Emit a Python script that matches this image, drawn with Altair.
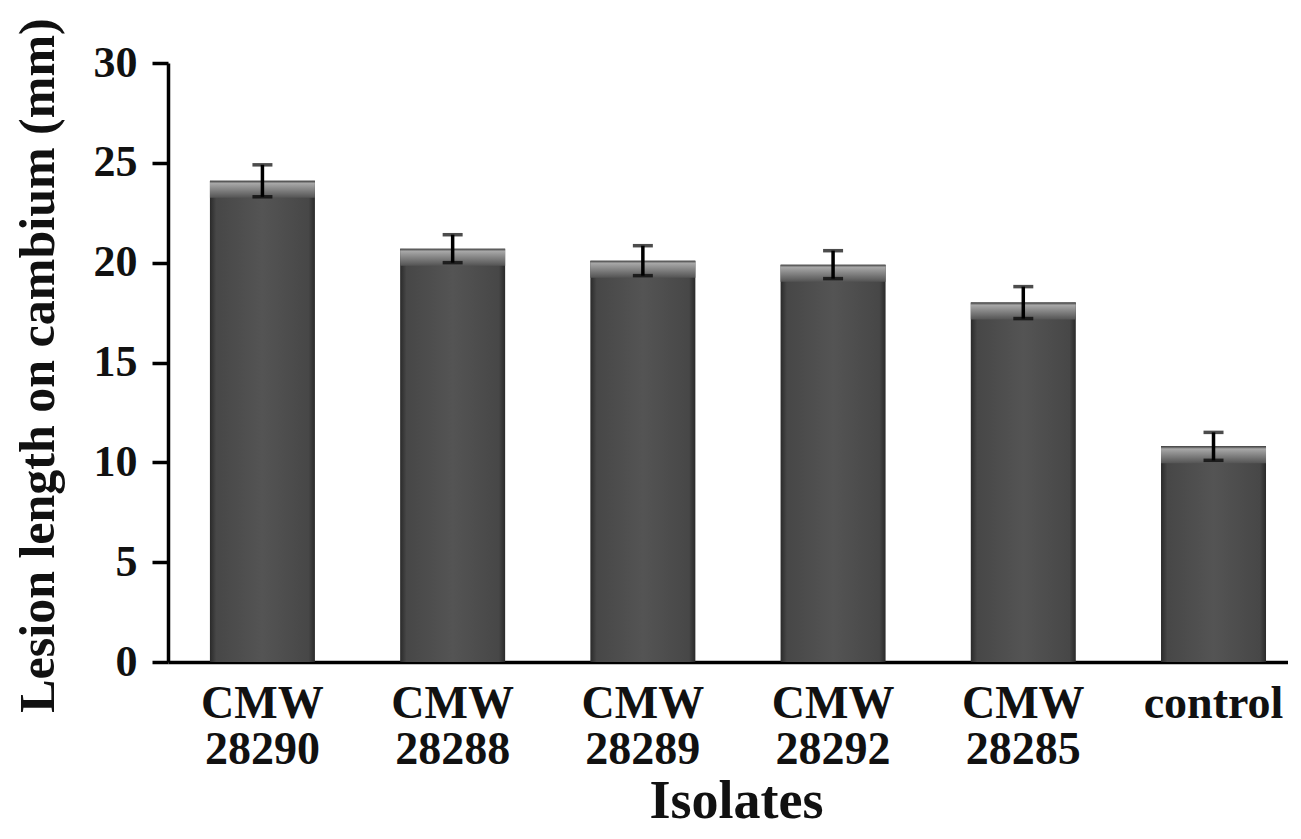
import altair as alt
import pandas as pd

isolates = ["CMW 28290", "CMW 28288", "CMW 28289", "CMW 28292", "CMW 28285", "control"]
lesion = [24.1, 20.7, 20.1, 19.9, 18.0, 10.8]
err = [0.8, 0.7, 0.75, 0.7, 0.8, 0.7]
y_ticks = [0, 5, 10, 15, 20, 25, 30]

df = pd.DataFrame({"isolate": isolates, "lesion": lesion, "err": err})

FONT = "Liberation Serif"

xscale = alt.Scale(paddingInner=0.448, paddingOuter=0.168, align=0.656)
yscale = alt.Scale(domain=[0, 30], nice=False)

x_enc = alt.X(
    "isolate:N",
    sort=isolates,
    scale=xscale,
    axis=alt.Axis(
        title="Isolates",
        labelExpr="split(datum.label, ' ')",
        labelAngle=0,
        labelFont=FONT,
        labelFontSize=46,
        labelFontWeight="bold",
        labelColor="#111",
        labelLineHeight=46,
        labelBaseline="top",
        labelPadding=19,
        ticks=False,
        domainColor="#000",
        domainWidth=3.5,
        titleFont=FONT,
        titleFontSize=54,
        titleFontWeight="bold",
        titleColor="#111",
        titleX=568,
        titleY=155,
        titleBaseline="alphabetic",
        titleAlign="center",
    ),
)

bar_grad = alt.LinearGradient(
    gradient="linear",
    x1=0, x2=1, y1=0, y2=0,
    stops=[
        alt.GradientStop(offset=0.0, color="#2a2a2a"),
        alt.GradientStop(offset=0.06, color="#474747"),
        alt.GradientStop(offset=0.5, color="#545454"),
        alt.GradientStop(offset=0.94, color="#474747"),
        alt.GradientStop(offset=1.0, color="#2a2a2a"),
    ],
)

bars = alt.Chart(df).mark_bar(color=bar_grad).encode(
    x=x_enc,
    y=alt.Y(
        "lesion:Q",
        scale=yscale,
        axis=alt.Axis(
            title="Lesion length on cambium (mm)",
            values=y_ticks,
            grid=False,
            labelFont=FONT,
            labelFontSize=44,
            labelFontWeight="bold",
            labelColor="#111",
            labelPadding=15,
            tickSize=16,
            tickWidth=3.5,
            tickColor="#000",
            domainColor="#000",
            domainWidth=3.5,
            titleFont=FONT,
            titleFontSize=50,
            titleFontWeight="bold",
            titleColor="#111",
            titleX=-115,
            titleY=302,
            titleAngle=-90,
            titleBaseline="alphabetic",
            titleAlign="center",
        ),
    ),
)

hl_grad = alt.LinearGradient(
    gradient="linear",
    x1=0, x2=0, y1=0, y2=1,
    stops=[
        alt.GradientStop(offset=0.0, color="#3a3a3a"),
        alt.GradientStop(offset=0.15, color="#a8a8a8"),
        alt.GradientStop(offset=0.45, color="#8a8a8a"),
        alt.GradientStop(offset=1.0, color="#545454"),
    ],
)

highlight = alt.Chart(df).transform_calculate(
    top_lo="datum.lesion - 0.85"
).mark_bar(color=hl_grad).encode(
    x=alt.X("isolate:N", sort=isolates, scale=xscale),
    y=alt.Y("lesion:Q", scale=yscale),
    y2="top_lo:Q",
)

base_err = alt.Chart(df).transform_calculate(
    lo="datum.lesion - datum.err",
    hi="datum.lesion + datum.err",
)

err_rule = base_err.mark_rule(color="#000", strokeWidth=3.5).encode(
    x=alt.X("isolate:N", sort=isolates, scale=xscale),
    y=alt.Y("lo:Q", scale=yscale),
    y2="hi:Q",
)
cap_hi = base_err.mark_tick(color="#000", size=20, thickness=3.5, orient="horizontal").encode(
    x=alt.X("isolate:N", sort=isolates, scale=xscale, bandPosition=0.5),
    y=alt.Y("hi:Q", scale=yscale),
)
cap_lo = base_err.mark_tick(color="#000", size=20, thickness=3.5, orient="horizontal").encode(
    x=alt.X("isolate:N", sort=isolates, scale=xscale, bandPosition=0.5),
    y=alt.Y("lo:Q", scale=yscale),
)

chart = alt.layer(bars, highlight, err_rule, cap_hi, cap_lo).properties(
    width=1120,
    height=599,
    autosize=alt.AutoSizeParams(type="none"),
    padding={"left": 160, "top": 55, "right": 0, "bottom": 166},
    background="white",
).configure_view(stroke=None)

chart.save("out.html", embed_options={"renderer": "svg", "actions": False})
